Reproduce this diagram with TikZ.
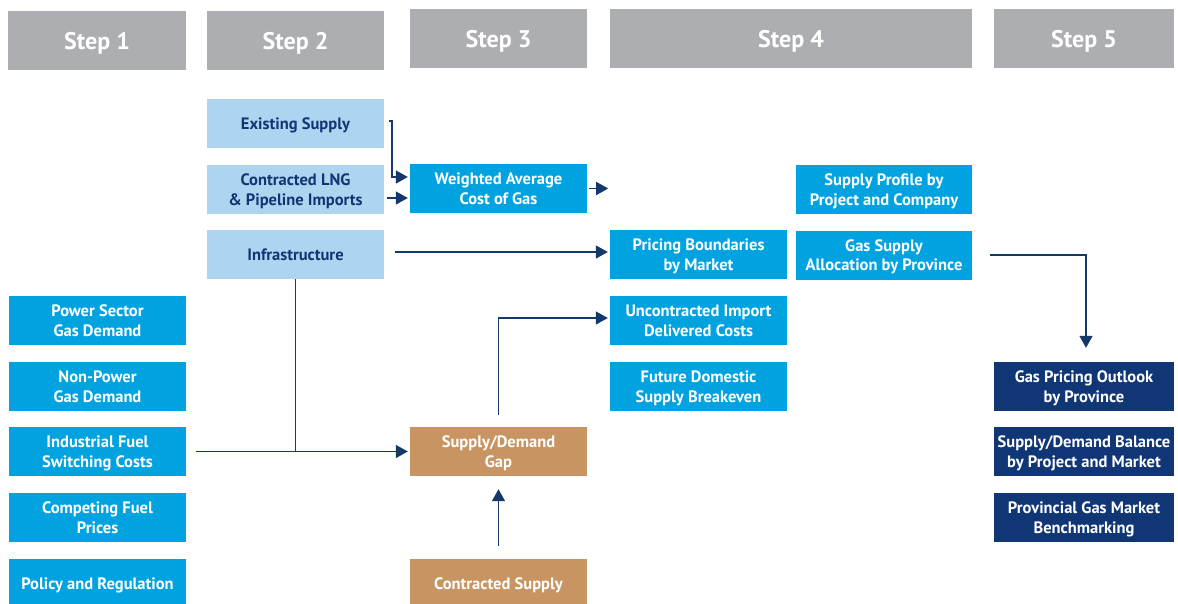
\documentclass[tikz,border=0pt]{standalone}
\usepackage{xcolor}
\usepackage{fontspec}
\setmainfont{PT Sans}
\usepackage{tikz}
\usetikzlibrary{shapes, arrows.meta, positioning}
\definecolor{headgray}{RGB}{173,174,178}
\definecolor{paleblue}{RGB}{174,213,239}
\definecolor{brightblue}{RGB}{0,163,224}
\definecolor{tan}{RGB}{200,149,98}
\definecolor{navy}{RGB}{16,54,118}
\definecolor{linenavy}{RGB}{20,56,106}

\begin{document}
\begin{tikzpicture}
  [
    x=1pt, y=-1pt,
    Head/.style={rectangle, fill=headgray, text=white, minimum height=59pt, inner sep=0pt, text depth=0pt, font=\fontsize{24}{27}\selectfont\bfseries},
    Pale/.style={rectangle, fill=paleblue, text=navy, minimum width=177pt, minimum height=49pt, inner sep=0pt, text depth=0pt, align=center, font=\fontsize{16.5}{19.5}\selectfont\bfseries},
    Blue/.style={Pale, fill=brightblue, text=white},
    Tan/.style={Pale, fill=tan, text=white},
    Navy/.style={Pale, fill=navy, text=white},
    Line/.style={draw=linenavy, line width=1.5pt},
    Arrow/.style={Line, -{Triangle[length=12pt, width=13pt]}}
  ]
  \useasboundingbox (0,0) rectangle (1178,603);
  % Nodes (x, y)
  % headers
  \node[Head, minimum width=178pt] (h1) at(97, 40.5) {Step 1};
  \node[Head, minimum width=177pt] (h2) at(295.5, 40.5) {Step 2};
  \node[Head, minimum width=177pt] (h3) at(498.5, 38.5) {Step 3};
  \node[Head, minimum width=362pt] (h4) at(791, 38.5) {Step 4};
  \node[Head, minimum width=180pt] (h5) at(1084, 38.5) {Step 5};
  % step 1
  \node[Blue] (v0) at(97.5, 320.5) {Power Sector\\Gas Demand};
  \node[Blue] (v1) at(97.5, 386.5) {Non-Power\\Gas Demand};
  \node[Blue] (v2) at(97.5, 451.5) {Industrial Fuel\\Switching Costs};
  \node[Blue] (v3) at(97.5, 517.5) {Competing Fuel\\Prices};
  \node[Blue] (v4) at(97.5, 583.5) {Policy and Regulation};
  % step 2
  \node[Pale] (v5) at(295.5, 123.5) {Existing Supply};
  \node[Pale] (v6) at(295.5, 189.5) {Contracted LNG\\\& Pipeline Imports};
  \node[Pale] (v7) at(295.5, 254.5) {Infrastructure};
  % step 3
  \node[Blue] (v8) at(498.5, 188.5) {Weighted Average\\Cost of Gas};
  \node[Tan] (v9) at(498.5, 451.5) {Supply/Demand\\Gap};
  \node[Tan] (v10) at(498.5, 583.5) {Contracted Supply};
  % step 4
  \node[Blue] (v11) at(698.5, 254.5) {Pricing Boundaries\\by Market};
  \node[Blue] (v12) at(698.5, 320.5) {Uncontracted Import\\Delivered Costs};
  \node[Blue] (v13) at(698.5, 386.5) {Future Domestic\\Supply Breakeven};
  \node[Blue, minimum width=176pt] (v14) at(884, 189.5) {Supply Profile by\\Project and Company};
  \node[Blue, minimum width=176pt] (v15) at(884, 255) {Gas Supply\\Allocation by Province};
  % step 5
  \node[Navy, minimum width=180pt] (v16) at(1084, 386.5) {Gas Pricing Outlook\\by Province};
  \node[Navy, minimum width=180pt] (v17) at(1084, 451.5) {Supply/Demand Balance\\by Project and Market};
  \node[Navy, minimum width=180pt] (v18) at(1084, 517.5) {Provincial Gas Market\\Benchmarking};
  \coordinate (c0) at ([xshift=21pt]v8.east);

  % Lines
  % existing supply -> weighted average
  \path [Arrow] ([xshift=5pt, yshift=2.5pt]v5.east) -- ++(3,0) |- ([xshift=-2pt, yshift=11.5pt]v8.west);
  % contracted lng -> weighted average
  \path [Arrow] ([xshift=3pt, yshift=-8.5pt]v6.east) -- ([xshift=-2pt, yshift=-9.5pt]v8.west);
  % weighted average -> step 4
  \path [Arrow] ([xshift=2pt]v8.east) -- (c0);
  % infrastructure -> pricing boundaries
  \path [Arrow] ([xshift=11pt, yshift=2.5pt]v7.east) -- ([xshift=-2pt, yshift=2.5pt]v11.west);
  % infrastructure down to the gap line
  \path [Line] (v7.south) -- (v7.south |- v9.west);
  % industrial fuel -> gap
  \path [Arrow] ([xshift=10pt]v2.east) -- ([xshift=-2pt]v9.west);
  % contracted supply -> gap
  \path [Arrow] ([yshift=13pt]v10.north) -- ([yshift=-13pt]v9.south);
  % gap -> uncontracted import
  \path [Arrow] ([yshift=12pt]v9.north) |- ([xshift=-2pt, yshift=2.5pt]v12.west);
  % allocation -> pricing outlook
  \path [Arrow] ([xshift=18pt]v15.east) -| ([xshift=2pt, yshift=14pt]v16.north);

\end{tikzpicture}
\end{document}
